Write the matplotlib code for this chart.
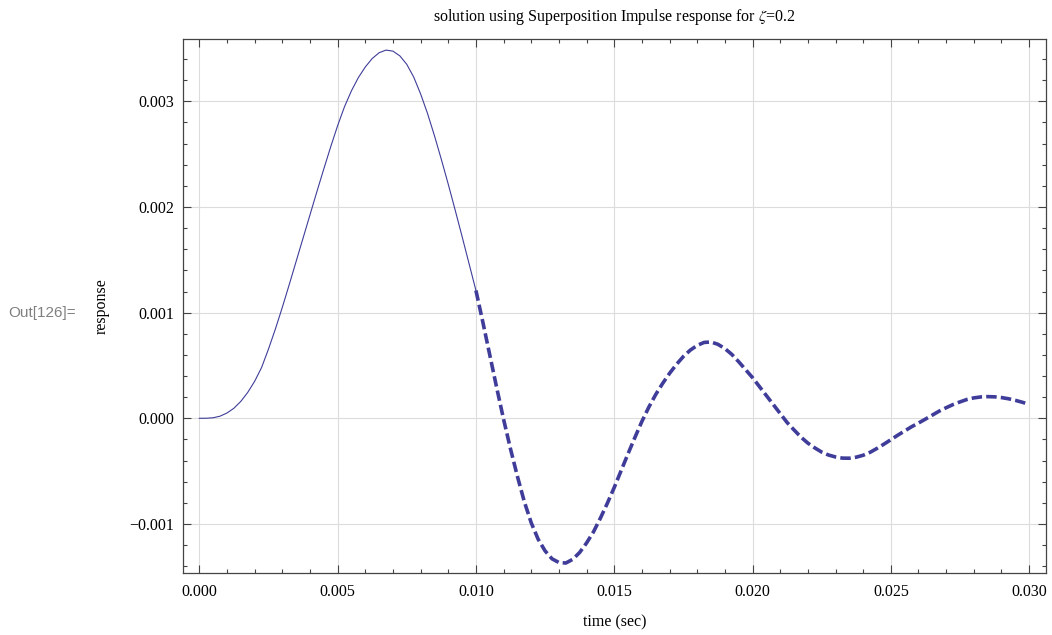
import matplotlib
matplotlib.use("Agg")
import matplotlib.pyplot as plt
from matplotlib.ticker import MultipleLocator, FuncFormatter

# values (time in ms, response in 1e-3 units)
# forced part, drawn solid
t_forced_ms = [0.0, 0.25, 0.5, 0.75, 1.0, 1.25, 1.5, 1.75, 2.0, 2.25,
               2.5, 2.75, 3.0, 3.25, 3.5, 3.75, 4.0, 4.25, 4.5, 4.75,
               5.0, 5.25, 5.5, 5.75, 6.0, 6.25, 6.5, 6.75, 7.0, 7.25,
               7.5, 7.75, 8.0, 8.25, 8.5, 8.75, 9.0, 9.25, 9.5, 9.75, 10.0]
y_forced_e3 = [0.0, 0.0005, 0.005, 0.02, 0.05, 0.095, 0.16, 0.245, 0.35, 0.48,
               0.655, 0.845, 1.05, 1.265, 1.485, 1.705, 1.925, 2.145, 2.36, 2.57,
               2.77, 2.95, 3.10, 3.225, 3.325, 3.405, 3.46, 3.485, 3.475, 3.43,
               3.35, 3.23, 3.07, 2.885, 2.675, 2.45, 2.215, 1.97, 1.72, 1.465, 1.21]

# free vibration part, drawn dashed
t_free_ms = [10.0, 10.25, 10.5, 10.75, 11.0, 11.25, 11.5, 11.75, 12.0, 12.25,
             12.5, 12.75, 13.0, 13.25, 13.5, 13.75, 14.0, 14.25, 14.5, 14.75,
             15.0, 15.25, 15.5, 15.75, 16.0, 16.25, 16.5, 16.75, 17.0, 17.25,
             17.5, 17.75, 18.0, 18.25, 18.5, 18.75, 19.0, 19.25, 19.5, 19.75,
             20.0, 20.25, 20.5, 20.75, 21.0, 21.25, 21.5, 21.75, 22.0, 22.25,
             22.5, 22.75, 23.0, 23.25, 23.5, 23.75, 24.0, 24.25, 24.5, 24.75,
             25.0, 25.25, 25.5, 25.75, 26.0, 26.25, 26.5, 26.75, 27.0, 27.25,
             27.5, 27.75, 28.0, 28.25, 28.5, 28.75, 29.0, 29.25, 29.5, 29.75, 29.9]
y_free_e3 = [1.21, 0.91, 0.60, 0.29, -0.01, -0.29, -0.55, -0.79, -0.99, -1.145,
             -1.255, -1.33, -1.365, -1.37, -1.335, -1.27, -1.18, -1.075, -0.945, -0.805,
             -0.655, -0.495, -0.335, -0.18, -0.03, 0.105, 0.225, 0.33, 0.425, 0.51,
             0.585, 0.645, 0.69, 0.718, 0.722, 0.70, 0.66, 0.605, 0.535, 0.46,
             0.385, 0.30, 0.215, 0.13, 0.045, -0.04, -0.11, -0.178, -0.235, -0.28,
             -0.32, -0.348, -0.366, -0.377, -0.378, -0.368, -0.35, -0.322, -0.285, -0.245,
             -0.203, -0.16, -0.12, -0.08, -0.045, -0.008, 0.03, 0.068, 0.10, 0.13,
             0.155, 0.178, 0.193, 0.202, 0.205, 0.203, 0.196, 0.185, 0.17, 0.152, 0.14]

x_ticks = [0.000, 0.005, 0.010, 0.015, 0.020, 0.025, 0.030]
y_ticks = [-0.001, 0.000, 0.001, 0.002, 0.003]

# convert to seconds / plain response units
t_forced = [t / 1000 for t in t_forced_ms]
y_forced = [v / 1000 for v in y_forced_e3]
t_free = [t / 1000 for t in t_free_ms]
y_free = [v / 1000 for v in y_free_e3]

line_color = "#3F3D99"
frame_color = "#444444"

plt.rcParams["font.family"] = ["Liberation Serif", "DejaVu Serif"]
plt.rcParams["mathtext.fontset"] = "stix"

fig = plt.figure(figsize=(10.52, 6.35), dpi=100)
ax = fig.add_axes([0.1737, 0.0972, 0.8206, 0.8409])

ax.plot(t_forced, y_forced, color=line_color, linewidth=0.8)
ax.plot(t_free, y_free, color=line_color, linewidth=2.6, dashes=(2.9, 1.15),
        dash_capstyle="butt")

ax.set_xlim(-0.0006, 0.03061)
ax.set_ylim(-0.001467, 0.003587)

fmt = FuncFormatter(lambda v, pos: f"{v:.3f}".replace("-", "\u2212"))
ax.set_xticks(x_ticks)
ax.set_yticks(y_ticks)
ax.xaxis.set_major_formatter(fmt)
ax.yaxis.set_major_formatter(fmt)
ax.xaxis.set_minor_locator(MultipleLocator(0.001))
ax.yaxis.set_minor_locator(MultipleLocator(0.0002))

ax.grid(True, which="major", color="#dcdcdc", linewidth=0.8)
ax.set_axisbelow(True)

ax.tick_params(which="both", direction="in", top=True, right=True,
               color=frame_color, width=0.8, labelsize=11.5)
ax.tick_params(which="major", length=5.5)
ax.tick_params(which="minor", length=3)
ax.tick_params(axis="x", pad=8)
ax.tick_params(axis="y", pad=6)
for s in ax.spines.values():
    s.set_color(frame_color)
    s.set_linewidth(0.9)

ax.set_title(r"solution using Superposition Impulse response for $\zeta$=0.2",
             fontsize=11.5, pad=13)
ax.set_xlabel("time (sec)", fontsize=11.5, va="top")
ax.xaxis.set_label_coords(0.5, -0.077)
ax.set_ylabel("response", fontsize=11.5)
ax.yaxis.set_label_coords(-0.085, 0.5)

fig.text(8 / 1052, 1 - 313 / 635, "Out[126]=", family="Liberation Sans",
         fontsize=11, color="#808080", ha="left", va="center")

fig.savefig("out.png", dpi=100)
